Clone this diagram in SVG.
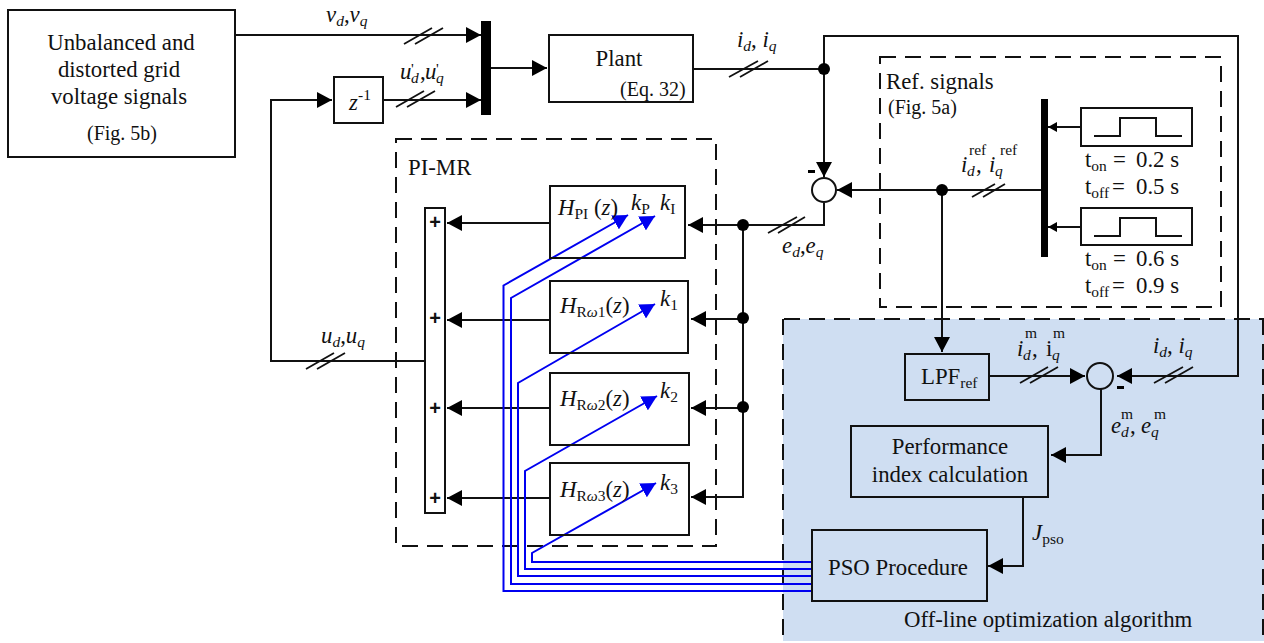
<svg xmlns="http://www.w3.org/2000/svg" width="1264" height="643" viewBox="0 0 1264 643">
<style>
text{font-family:"Liberation Serif","Times New Roman",serif;font-size:22.800px;fill:#111}
.i{font-style:italic}
.sm{font-size:15.500px}
.s{font-size:20px}
.sup{font-size:15.500px}
.plus{font-family:"Liberation Sans",Arial,sans-serif;font-size:20px;font-weight:bold}
.box{fill:none;stroke:#111;stroke-width:2}
.line{fill:none;stroke:#111;stroke-width:2}
.tick{fill:none;stroke:#111;stroke-width:1.800}
.dash{fill:none;stroke:#111;stroke-width:2;stroke-dasharray:16 9}
.blue{fill:none;stroke:#0000f0;stroke-width:2}
.bar{fill:#000}
</style>
<defs>
<marker id="a" markerUnits="userSpaceOnUse" markerWidth="16" markerHeight="16" refX="15" refY="8" orient="auto"><path d="M0 0L15 8L0 16Z" fill="#000"/></marker>
<marker id="as" markerUnits="userSpaceOnUse" markerWidth="9" markerHeight="10" refX="9" refY="5" orient="auto"><path d="M0 0L9 5L0 10Z" fill="#000"/></marker>
<marker id="b" markerUnits="userSpaceOnUse" markerWidth="16" markerHeight="16" refX="15" refY="8" orient="auto"><path d="M0 0L15 8L0 16Z" fill="#0000f0"/></marker>
</defs>
<rect x="783" y="319" width="481" height="322" fill="#cfdef2"/>
<g id="frames">
<path class="dash" d="M784 319H1264M783 319V641M1263 319V641"/>
<rect class="dash" x="396" y="139" width="320" height="407"/>
<rect class="dash" x="880" y="57" width="341" height="250"/>
</g>
<g id="connectors">
<path class="line" d="M235 35H481" marker-end="url(#a)"/>
<path class="line" d="M383 100H481" marker-end="url(#a)"/>
<path class="line" d="M491 68H547" marker-end="url(#a)"/>
<path class="line" d="M425 361H271V100H332" marker-end="url(#a)"/>
<path class="line" d="M693 69H824"/>
<path class="line" d="M824 69V177" marker-end="url(#a)"/>
<path class="line" d="M824 69V36H1238V376H1117" marker-end="url(#a)"/>
<path class="line" d="M1041 190H837" marker-end="url(#a)"/>
<path class="line" d="M942 190V352" marker-end="url(#a)"/>
<path class="line" d="M824 203V225H688" marker-end="url(#a)"/>
<path class="line" d="M743 225V497H691" marker-end="url(#a)"/>
<path class="line" d="M743 319H691" marker-end="url(#a)"/>
<path class="line" d="M743 408H691" marker-end="url(#a)"/>
<path class="line" d="M550 223H447" marker-end="url(#a)"/>
<path class="line" d="M550 320H447" marker-end="url(#a)"/>
<path class="line" d="M550 408H447" marker-end="url(#a)"/>
<path class="line" d="M550 498H447" marker-end="url(#a)"/>
<path class="line" d="M1081 127H1048" marker-end="url(#as)"/>
<path class="line" d="M1081 227H1048" marker-end="url(#as)"/>
<path class="line" d="M989 376H1085" marker-end="url(#a)"/>
<path class="line" d="M1101 389V455H1051" marker-end="url(#a)"/>
<path class="line" d="M1023 497V566H988" marker-end="url(#a)"/>
<path class="tick" d="M404 44L432 28M415 44L443 28M396 107L424 91M407 107L435 91M306 369L334 353M317 369L345 353M729 77L758 61M740 77L768 61M768 233L797 217M778 233L805 217M972 197L995 184M983 197L1005 184M1020 383L1048 367M1030 383L1058 367M1154 383L1183 367M1165 383L1193 367"/>
<path class="blue" d="M811 591H503.500V285.500L628 215" marker-end="url(#b)"/>
<path class="blue" d="M811 584H511V298L655 216" marker-end="url(#b)"/>
<path class="blue" d="M811 576H518V383L655 304" marker-end="url(#b)"/>
<path class="blue" d="M811 569H525V471L657 396" marker-end="url(#b)"/>
<path class="blue" d="M811 562H532V553L656 483" marker-end="url(#b)"/>
<circle cx="824" cy="69" r="6"/><circle cx="942" cy="190" r="6"/><circle cx="743" cy="225" r="6"/><circle cx="743" cy="318" r="6"/><circle cx="743" cy="407" r="6"/>
</g>
<g id="input"><rect class="box" x="8" y="10" width="227" height="147"/>
<text x="121" y="50" text-anchor="middle">Unbalanced and</text><text x="119" y="77" text-anchor="middle">distorted grid</text><text x="119" y="104" text-anchor="middle">voltage signals</text><text x="87" y="140" class="s">(Fig. 5b)</text></g>
<g id="mux1"><rect class="bar" x="481" y="21" width="10" height="94"/></g>
<g id="plant"><rect class="box" x="549" y="35" width="144" height="67"/><text x="619" y="66" text-anchor="middle">Plant</text><text x="620" y="96" class="s">(Eq. 32)</text></g>
<g id="delay"><rect class="box" x="334" y="77" width="49" height="46"/><text x="349" y="110"><tspan class="i">z</tspan><tspan class="sm" x="358" y="100">-1</tspan></text></g>
<g id="pimr-label"><text x="408" y="175">PI-MR</text></g>
<g id="sum"><rect class="box" x="425" y="208" width="20" height="305"/>
<text class="plus" x="435" y="229" text-anchor="middle">+</text><text class="plus" x="435" y="325" text-anchor="middle">+</text><text class="plus" x="435" y="415" text-anchor="middle">+</text><text class="plus" x="435" y="505" text-anchor="middle">+</text></g>
<g id="hpi"><rect class="box" x="550" y="186" width="135" height="72"/><text x="558" y="215"><tspan class="i">H</tspan><tspan class="sm" dy="4">PI</tspan><tspan dy="-4"> (</tspan><tspan class="i">z</tspan>)</text><text x="631" y="210"><tspan class="i">k</tspan><tspan class="sm" dy="4">P</tspan></text><text x="660" y="210"><tspan class="i">k</tspan><tspan class="sm" dy="4">I</tspan></text></g>
<g id="hr1"><rect class="box" x="550" y="281" width="138" height="72"/><text x="560" y="313"><tspan class="i">H</tspan><tspan class="sm" dy="4">R<tspan class="i">ω</tspan>1</tspan><tspan dy="-4">(</tspan><tspan class="i">z</tspan>)</text><text x="660" y="306"><tspan class="i">k</tspan><tspan class="sm" dy="4">1</tspan></text></g>
<g id="hr2"><rect class="box" x="550" y="373" width="139" height="72"/><text x="560" y="406"><tspan class="i">H</tspan><tspan class="sm" dy="4">R<tspan class="i">ω</tspan>2</tspan><tspan dy="-4">(</tspan><tspan class="i">z</tspan>)</text><text x="660" y="398"><tspan class="i">k</tspan><tspan class="sm" dy="4">2</tspan></text></g>
<g id="hr3"><rect class="box" x="550" y="463" width="139" height="72"/><text x="560" y="497"><tspan class="i">H</tspan><tspan class="sm" dy="4">R<tspan class="i">ω</tspan>3</tspan><tspan dy="-4">(</tspan><tspan class="i">z</tspan>)</text><text x="660" y="490"><tspan class="i">k</tspan><tspan class="sm" dy="4">3</tspan></text></g>
<g id="sum1"><circle cx="824" cy="190" r="12" fill="#fff" stroke="#111" stroke-width="2"/><rect x="808" y="170" width="7" height="3" fill="#000"/></g>
<g id="refmux"><rect class="bar" x="1041" y="99" width="7" height="158"/></g>
<g id="ref-label"><text x="886" y="89">Ref. signals</text><text x="888" y="114" class="s">(Fig. 5a)</text></g>
<g id="pulse1"><rect class="box" x="1081" y="108" width="111" height="38"/><path class="line" d="M1094 136H1120V118H1156V136H1182"/></g>
<g id="pulse2"><rect class="box" x="1081" y="208" width="111" height="37"/><path class="line" d="M1094 236H1120V218H1156V236H1182"/></g>
<g id="timing">
<text x="1085" y="167">t<tspan class="sm" dy="4">on</tspan><tspan x="1113" y="167">=</tspan><tspan x="1136" y="167">0.2 s</tspan></text>
<text x="1085" y="194">t<tspan class="sm" dy="4">off</tspan><tspan x="1112" y="194">=</tspan><tspan x="1136" y="194">0.5 s</tspan></text>
<text x="1085" y="266">t<tspan class="sm" dy="4">on</tspan><tspan x="1113" y="266">=</tspan><tspan x="1136" y="266">0.6 s</tspan></text>
<text x="1085" y="293">t<tspan class="sm" dy="4">off</tspan><tspan x="1112" y="293">=</tspan><tspan x="1136" y="293">0.9 s</tspan></text>
</g>
<g id="lpf"><rect class="box" x="905" y="354" width="84" height="46"/><text x="921" y="384">LPF<tspan class="sm" dy="4">ref</tspan></text></g>
<g id="sum2"><circle cx="1100" cy="376" r="13" fill="none" stroke="#111" stroke-width="2"/><rect x="1117" y="386" width="7" height="3" fill="#000"/></g>
<g id="perf"><rect class="box" x="851" y="426" width="197" height="71"/><text x="950" y="454" text-anchor="middle">Performance</text><text x="950" y="482" text-anchor="middle">index calculation</text></g>
<g id="pso"><rect class="box" x="812" y="530" width="175" height="71"/><text x="828" y="575">PSO Procedure</text></g>
<g id="labels">
<text x="326" y="22"><tspan class="i">v</tspan><tspan class="sm i" dy="4">d</tspan><tspan dy="-4">,</tspan><tspan class="i">v</tspan><tspan class="sm i" dy="4">q</tspan></text>
<text x="400" y="79"><tspan class="i">u</tspan><tspan x="411" y="74" class="sm">'</tspan><tspan x="411" y="83" class="sm i">d</tspan><tspan x="420" y="79">,</tspan><tspan class="i" x="425" y="79">u</tspan><tspan x="436" y="74" class="sm">'</tspan><tspan x="436" y="83" class="sm i">q</tspan></text>
<text x="737" y="47"><tspan class="i">i</tspan><tspan class="sm i" dy="4">d</tspan><tspan dy="-4">, </tspan><tspan class="i">i</tspan><tspan class="sm i" dy="4">q</tspan></text>
<text x="321" y="343"><tspan class="i">u</tspan><tspan class="sm i" dy="4">d</tspan><tspan dy="-4">,</tspan><tspan class="i">u</tspan><tspan class="sm i" dy="4">q</tspan></text>
<text x="782" y="253"><tspan class="i">e</tspan><tspan class="sm i" dy="4">d</tspan><tspan dy="-4">,</tspan><tspan class="i">e</tspan><tspan class="sm i" dy="4">q</tspan></text>
<text x="961" y="172"><tspan class="i">i</tspan><tspan class="sup" x="969" y="155">ref</tspan><tspan class="sm i" x="967" y="176">d</tspan><tspan x="976" y="172">,</tspan><tspan class="i" x="989" y="172">i</tspan><tspan class="sup" x="1000" y="155">ref</tspan><tspan class="sm i" x="995" y="176">q</tspan></text>
<text x="1017" y="356"><tspan class="i">i</tspan><tspan class="sup" x="1025" y="338">m</tspan><tspan class="sm i" x="1023" y="360">d</tspan><tspan x="1032" y="356">,</tspan><tspan x="1046" y="356">i</tspan><tspan class="sup" x="1053" y="338">m</tspan><tspan class="sm i" x="1052" y="360">q</tspan></text>
<text x="1153" y="353"><tspan class="i">i</tspan><tspan class="sm i" dy="4">d</tspan><tspan dy="-4">, </tspan><tspan class="i">i</tspan><tspan class="sm i" dy="4">q</tspan></text>
<text x="1111" y="433"><tspan class="i">e</tspan><tspan class="sup" x="1121" y="419">m</tspan><tspan class="sm i" x="1121" y="437">d</tspan><tspan x="1130" y="433">,</tspan><tspan class="i" x="1141" y="433">e</tspan><tspan class="sup" x="1154" y="419">m</tspan><tspan class="sm i" x="1151" y="437">q</tspan></text>
<text x="1032" y="540"><tspan class="i">J</tspan><tspan class="sm" dy="4">pso</tspan></text>
<text x="904" y="627">Off-line optimization algorithm</text>
</g>
</svg>
